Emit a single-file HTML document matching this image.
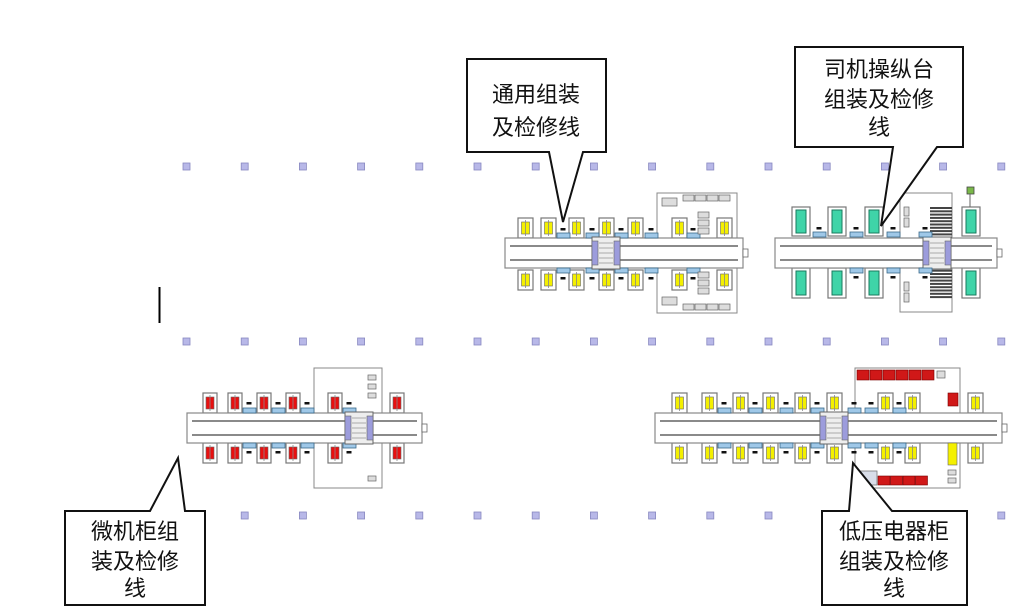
<!DOCTYPE html>
<html><head><meta charset="utf-8"><style>
html,body{margin:0;padding:0;background:#fff;width:1024px;height:616px;overflow:hidden}
svg{display:block}
text{font-family:"Liberation Sans","Noto Sans CJK SC",sans-serif}
.cl{font-size:22px;fill:#111}
</style></head><body>
<svg id="s" width="1024" height="616" viewBox="0 0 1024 616" xmlns="http://www.w3.org/2000/svg">
<g id="g"></g>
<line x1="159.5" y1="287" x2="159.5" y2="323" stroke="#000" stroke-width="2"/>
<!-- callouts -->
<polygon points="467,59 606,59 606,152 583,152 563,222 549,152 467,152" fill="#fff" stroke="#111" stroke-width="2"/>
<text class="cl" x="536" y="102" text-anchor="middle">通用组装</text>
<text class="cl" x="536" y="135" text-anchor="middle">及检修线</text>
<polygon points="795,47 963,47 963,147 937,147 881,226 893,147 795,147" fill="#fff" stroke="#111" stroke-width="2"/>
<text class="cl" x="879" y="77" text-anchor="middle">司机操纵台</text>
<text class="cl" x="879" y="107" text-anchor="middle">组装及检修</text>
<text class="cl" x="879" y="135" text-anchor="middle">线</text>
<polygon points="65,511 150,511 178,458 185,511 205,511 205,605 65,605" fill="#fff" stroke="#111" stroke-width="2"/>
<text class="cl" x="135" y="539" text-anchor="middle">微机柜组</text>
<text class="cl" x="135" y="569" text-anchor="middle">装及检修</text>
<text class="cl" x="135" y="596" text-anchor="middle">线</text>
<polygon points="822,511 849,511 853,463 892,511 967,511 967,605 822,605" fill="#fff" stroke="#111" stroke-width="2"/>
<text class="cl" x="894" y="539" text-anchor="middle">低压电器柜</text>
<text class="cl" x="894" y="569" text-anchor="middle">组装及检修</text>
<text class="cl" x="894" y="596" text-anchor="middle">线</text>
</svg>
<script>
var g=document.getElementById('g'),NS='http://www.w3.org/2000/svg';
function R(x,y,w,h,f,s,sw){var r=document.createElementNS(NS,'rect');r.setAttribute('x',x);r.setAttribute('y',y);r.setAttribute('width',w);r.setAttribute('height',h);r.setAttribute('fill',f||'none');if(s){r.setAttribute('stroke',s);r.setAttribute('stroke-width',sw||1);}g.appendChild(r);}
function L(x1,y1,x2,y2,s,w){var l=document.createElementNS(NS,'line');l.setAttribute('x1',x1);l.setAttribute('y1',y1);l.setAttribute('x2',x2);l.setAttribute('y2',y2);l.setAttribute('stroke',s);l.setAttribute('stroke-width',w||1);g.appendChild(l);}
// column markers
[166,341,515].forEach(function(y){for(var i=0;i<15;i++){var x=186+i*58.2;R(x-3,y-3,7,7,'#b8b8e8','#8888c0',0.8);}});
function conveyor(x1,x2,y){R(x1,y,x2-x1,30,'#fff','#888',1.2);L(x1+5,y+8,x2-5,y+8,'#444',1.2);L(x1+5,y+22,x2-5,y+22,'#444',1.2);R(x2,y+11,5,8,'#fff','#666',0.8);}
function station(x,w,yt,h,col,green){R(x,yt,w,h,'#fff','#777',1.2);
 if(green){R(x+w/2-5,yt+3,10,h-6,'#3fd4a8','#1a7a5e',1);}else{R(x+w/2-4,yt+h/2-6,8,12,col,'#666',0.6);L(x+w/2,yt+2,x+w/2,yt+h-2,'#888',0.8);}}
function pad(x,y){R(x,y,13,5,'#9fc8e8','#3a6a8a',0.8);}
function dot(x,y){R(x-2.5,y-1,5,2.5,'#111');}
function car(x,y){R(x,y,28,32,'#eee','#666',1);R(x,y+4,6,24,'#9c9cdc','#666',0.6);R(x+22,y+4,6,24,'#9c9cdc','#666',0.6);for(var i=0;i<5;i++)L(x+7,y+6+i*5,x+21,y+6+i*5,'#999',0.8);}
function gbox(x,y,w,h,c){R(x,y,w||11,h||6,c||'#ddd','#666',0.7);}
// Layout A
R(657,193,80,120,'#fff','#888',1);
[518,541,569,599,628,672,717].forEach(function(x){station(x,15,218,20,'#f4f000');station(x,15,270,20,'#f4f000');});
conveyor(505,743,238);
[557,586,615,645,687].forEach(function(x,i){pad(x,233);pad(x,268);dot(x+6,229);dot(x+6,278);});
car(592,237);
gbox(662,198,15,8);[683,695,707,719].forEach(function(x){gbox(x,195);});[698,698,698].forEach(function(x,i){gbox(x,212+i*8);});
[698,698,698].forEach(function(x,i){gbox(x,272+i*8);});gbox(662,297,15,8);[683,695,707,719].forEach(function(x){gbox(x,304);});
// Layout B
R(900,193,52,119,'#fff','#888',1);
[792,828,865,962].forEach(function(x){station(x,18,207,29,'',1);station(x,18,268,30,'',1);});
for(var i=0;i<28;i++)R(930,207+i*3.3,22,2,'#444');
conveyor(775,997,238);
car(923,237);
[813,850,887,919].forEach(function(x){pad(x,232);dot(x+6,228);});[850,887,919].forEach(function(x){pad(x,268);dot(x+6,277);});
gbox(904,207,5,9);gbox(904,218,5,9);gbox(904,282,5,9);gbox(904,293,5,9);
R(967,187,7,7,'#7ab84a','#444',0.8);L(970,194,970,207,'#666',1);
// Layout C
R(314,368,68,120,'#fff','#888',1);
[203,228,257,286,328,390].forEach(function(x){station(x,14,393,20,'#e81010');station(x,14,443,20,'#e81010');});
conveyor(187,422,413);
[243,272,301,343].forEach(function(x){pad(x,408);pad(x,443);dot(x+6,403);dot(x+6,452);});
car(345,412);
gbox(368,375,8,5);gbox(368,384,8,5);gbox(368,393,8,5);gbox(368,476,8,5);
// Layout D
R(855,368,105,120,'#fff','#888',1);
[672,702,733,763,795,827,878,905,968].forEach(function(x){station(x,15,393,20,'#f4f000');station(x,15,443,20,'#f4f000');});
conveyor(655,1002,413);
[718,749,780,811,848,865,893].forEach(function(x){pad(x,408);pad(x,443);dot(x+6,403);dot(x+6,452);});
car(820,412);
for(var i=0;i<6;i++)R(857+i*13,370,12,10,'#d01818','#700',0.6);gbox(937,371,8,7);
R(948,393,10,13,'#d01818','#700',0.6);R(948,443,9,22,'#f4f000','#666',0.6);gbox(948,470,8,5);gbox(948,478,8,5);
R(858,471,19,14,'#d8dde8','#777',0.8);for(var i=0;i<4;i++)R(878+i*12.5,476,12,9,'#d01818','#700',0.6);
</script>
</body></html>
